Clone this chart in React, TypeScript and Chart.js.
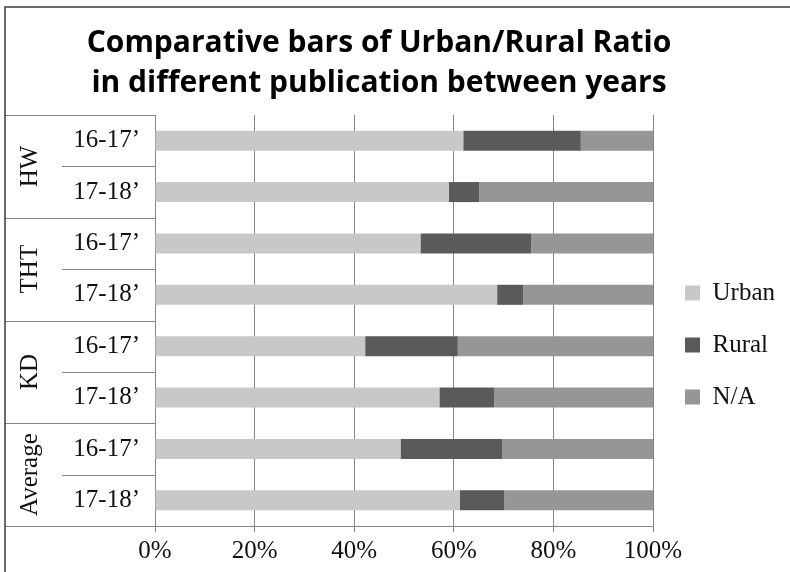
import React, { useEffect, useRef } from "react";
import { Chart, registerables } from "chart.js";

Chart.register(...registerables);

const titleLines = ["Comparative bars of Urban/Rural Ratio", "in different publication between years"];
const groups = ["HW", "THT", "KD", "Average"];
const periods = ["16-17’", "17-18’", "16-17’", "17-18’", "16-17’", "17-18’", "16-17’", "17-18’"];
const urban = [61.9, 59.0, 53.3, 68.7, 42.2, 57.1, 49.3, 61.2];
const rural = [23.6, 6.1, 22.2, 5.2, 18.6, 11.0, 20.4, 8.9];
const notAvailable = [14.5, 34.9, 24.5, 26.1, 39.2, 31.9, 30.3, 29.9];
const seriesNames = ["Urban", "Rural", "N/A"];
const xTicks = [0, 20, 40, 60, 80, 100];

const SERIF = "'Liberation Serif', 'Times New Roman', serif";
const LINE = "#868686";
const LEGEND_PAD = 27;
const LEGEND_FIRST_CENTER = 293;
const LEGEND_SHIFT_X = 5;

const groupPlugin = {
  id: "groupPlugin",
  afterLayout(chart: any) {
    const lg = chart.legend;
    if (lg) {
      const top = LEGEND_FIRST_CENTER - LEGEND_PAD - 12.5;
      const h = lg.bottom - lg.top;
      lg.top = top;
      lg.bottom = top + h;
      lg.left += LEGEND_SHIFT_X;
      lg.right = chart.width;
      lg.width = lg.right - lg.left;
    }
  },
  afterDraw(chart: any) {
    const { ctx, chartArea } = chart;
    const y = chart.scales.y;
    const n = periods.length;
    const step = Math.abs(y.getPixelForValue(1) - y.getPixelForValue(0));
    const frameX = 5;
    const innerX = 62;
    ctx.save();
    ctx.strokeStyle = LINE;
    ctx.lineWidth = 1;
    for (let i = 0; i <= n; i++) {
      const yb = i < n ? y.getPixelForValue(i) - step / 2 : y.getPixelForValue(n - 1) + step / 2;
      const yy = Math.round(yb) + 0.5;
      const x0 = i % 2 === 0 ? frameX : innerX;
      ctx.beginPath();
      ctx.moveTo(x0, yy);
      ctx.lineTo(chartArea.left, yy);
      ctx.stroke();
    }
    ctx.fillStyle = "#111";
    ctx.font = `25px ${SERIF}`;
    ctx.textAlign = "center";
    ctx.textBaseline = "middle";
    groups.forEach((g, gi) => {
      const c = (y.getPixelForValue(gi * 2) + y.getPixelForValue(gi * 2 + 1)) / 2;
      ctx.save();
      ctx.translate(30, c);
      ctx.rotate(-Math.PI / 2);
      ctx.fillText(g, 0, 0);
      ctx.restore();
    });
    // frame
    ctx.strokeStyle = "#3a3a3a";
    ctx.lineWidth = 1.5;
    ctx.beginPath();
    ctx.moveTo(frameX, chart.height);
    ctx.lineTo(frameX, 7);
    ctx.lineTo(chart.width, 7);
    ctx.stroke();
    ctx.restore();
  },
};

export default function App() {
  const ref = useRef<HTMLCanvasElement>(null);
  useEffect(() => {
    document.body.style.margin = "0";
    const canvas = ref.current;
    if (!canvas) return;
    const colors = ["#c8c8c8", "#5a5a5a", "#969696"];
    const data = [urban, rural, notAvailable];
    const chart = new Chart(canvas, {
      type: "bar",
      data: {
        labels: periods,
        datasets: seriesNames.map((name, i) => ({
          label: name,
          data: data[i],
          backgroundColor: colors[i],
          borderWidth: 0,
          barPercentage: 0.39,
          categoryPercentage: 1,
        })),
      },
      options: {
        indexAxis: "y",
        animation: false,
        responsive: false,
        maintainAspectRatio: false,
        devicePixelRatio: 1,
        layout: { padding: { left: 0, right: 32, top: 0, bottom: 2 } },
        plugins: {
          title: {
            display: true,
            text: titleLines,
            color: "#000",
            font: { family: "'Open Sans', Lato, sans-serif", size: 30, weight: "bold", lineHeight: 40 / 30 },
            padding: { top: 23, bottom: 12 },
          },
          legend: {
            position: "right",
            align: "start",
            maxWidth: 105,
            labels: {
              boxWidth: 15,
              boxHeight: 15,
              padding: LEGEND_PAD,
              color: "#111",
              font: { family: SERIF, size: 25 },
            },
          },
          tooltip: { enabled: false },
        },
        scales: {
          x: {
            stacked: true,
            min: 0,
            max: 100,
            afterBuildTicks: (scale: any) => {
              scale.ticks = xTicks.map((v) => ({ value: v }));
            },
            ticks: {
              callback: (v: any) => `${v}%`,
              color: "#111",
              font: { family: SERIF, size: 25 },
              padding: 4,
              maxRotation: 0,
            },
            grid: { color: LINE, lineWidth: 1, tickLength: 6, tickColor: LINE },
            border: { color: LINE, width: 1 },
          },
          y: {
            stacked: true,
            afterFit: (scale: any) => {
              scale.width = 155;
            },
            ticks: {
              color: "#111",
              font: { family: SERIF, size: 25 },
              padding: 15,
            },
            grid: { display: true, drawOnChartArea: false, drawTicks: false, color: "rgba(0,0,0,0)" },
            border: { color: LINE, width: 1 },
          },
        },
      },
      plugins: [groupPlugin],
    });
    return () => chart.destroy();
  }, []);
  return (
    <div style={{ width: 790, height: 572, background: "#fff" }}>
      <canvas ref={ref} width={790} height={572} style={{ display: "block" }} />
    </div>
  );
}
